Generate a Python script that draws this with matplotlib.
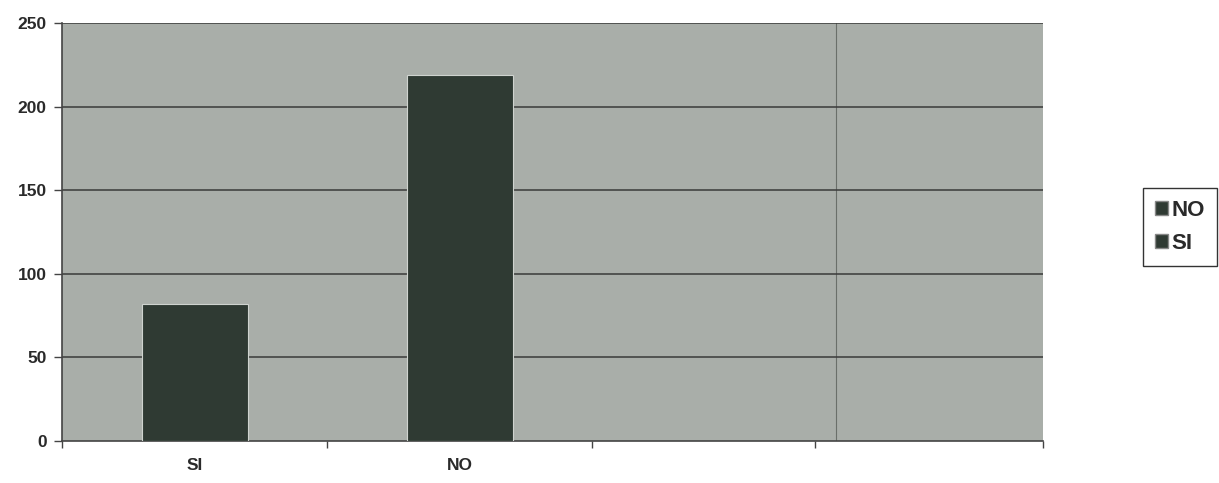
import matplotlib
matplotlib.use("Agg")
import matplotlib.pyplot as plt
from matplotlib.patches import Patch

categories = ["SI", "NO"]
values = [82, 219]
legend_labels = ["NO", "SI"]
y_ticks = [0, 50, 100, 150, 200, 250]

plt.rcParams['font.family'] = ['Liberation Sans', 'DejaVu Sans']

fig = plt.figure(figsize=(12.19, 4.83), dpi=100)
fig.patch.set_facecolor('white')
ax = fig.add_axes([62/1219, 42/483, (1043-62)/1219, (441-23)/483])
ax.set_facecolor('#a9aea9')

bar_color = '#2f3a33'
xpos = list(range(len(categories)))
ax.bar(xpos, values, width=0.4, color=bar_color, edgecolor='#cfd3cf', linewidth=0.8, zorder=3)

# slot boundaries (scanned chart, slightly uneven)
bounds = [-0.5, 0.5, 1.5, 2.34, 3.2]
ax.set_xlim(bounds[0], bounds[-1])
ax.set_ylim(0, 250)
ax.set_yticks(y_ticks)
ax.set_yticklabels([str(v) for v in y_ticks], fontsize=12.5, fontweight='bold', color='#2a2a2a')

ax.set_xticks(bounds)
ax.set_xticklabels([''] * len(bounds))
ax.set_xticks(xpos, minor=True)
ax.set_xticklabels(categories, minor=True, fontsize=12.5, fontweight='bold', color='#2a2a2a')
ax.tick_params(axis='x', which='major', direction='out', length=5, width=1, color='#444444')
ax.tick_params(axis='x', which='minor', length=0, pad=12)
ax.tick_params(axis='y', direction='out', length=6, width=1, color='#444444', pad=5)

for y in y_ticks[1:]:
    ax.axhline(y, color='#3a3a3a', linewidth=1.1, zorder=2)
ax.axvline(2.42, color='#6a6f6a', linewidth=0.8, zorder=1)

for s in ['top', 'right']:
    ax.spines[s].set_visible(False)
ax.spines['left'].set_color('#444444')
ax.spines['bottom'].set_color('#444444')
ax.spines['left'].set_linewidth(1.2)
ax.spines['bottom'].set_linewidth(1.2)

handles = [Patch(facecolor=bar_color, edgecolor='#888888') for _ in legend_labels]
leg = fig.legend(handles, legend_labels, loc='center', bbox_to_anchor=(1180/1219, 1 - 227/483),
                 fancybox=False, edgecolor='#333333', framealpha=1,
                 prop={'size': 16, 'weight': 'bold'}, handlelength=0.6, handleheight=0.6,
                 handletextpad=0.15, labelspacing=0.55, borderpad=0.55, borderaxespad=0)
leg.get_frame().set_linewidth(1.0)
for t in leg.get_texts():
    t.set_color('#2a2a2a')

fig.savefig('out.png', dpi=100)
